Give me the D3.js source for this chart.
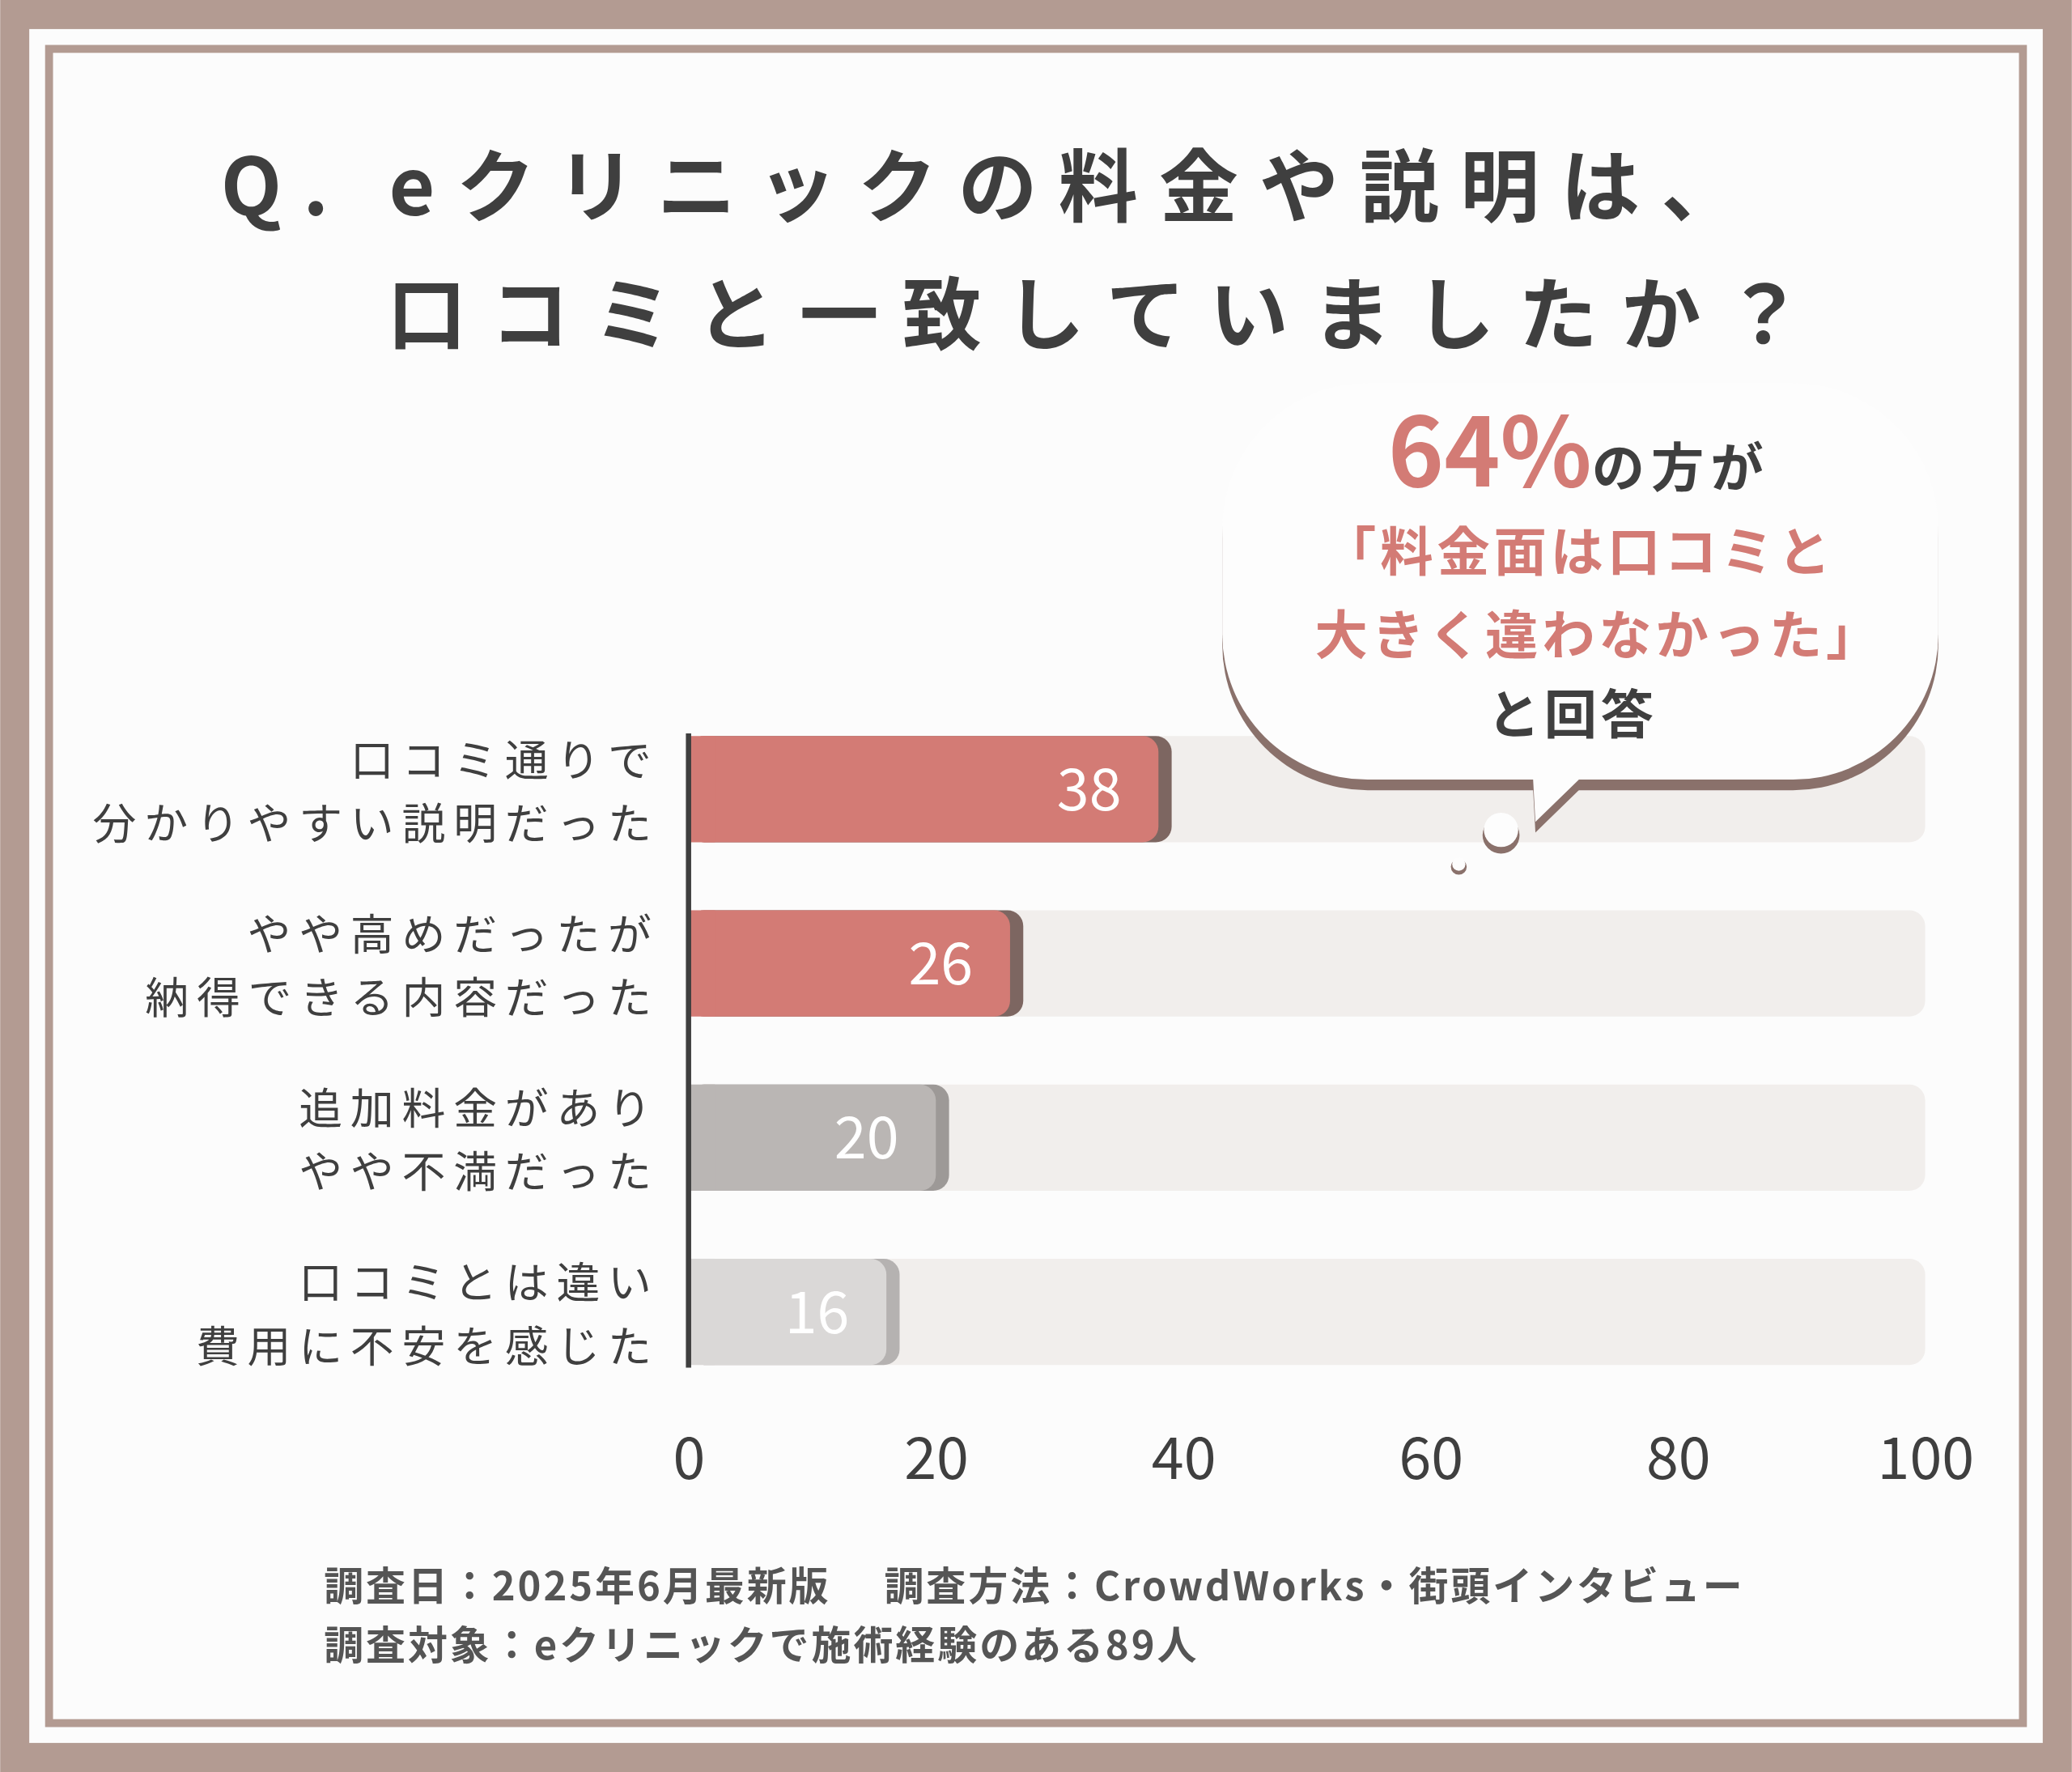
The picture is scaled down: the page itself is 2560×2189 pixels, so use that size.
<!DOCTYPE html>
<html><head><meta charset="utf-8">
<script src="https://cdn.jsdelivr.net/npm/d3@7"></script>
<style>body{margin:0;background:#fff}svg{display:block}</style>
</head><body>
<script>
const categories=[["口コミ通りで","分かりやすい説明だった"],["やや高めだったが","納得できる内容だった"],["追加料金があり","やや不満だった"],["口コミとは違い","費用に不安を感じた"]];
const values=[38,26,20,16];
const barColors=["#d37b75","#d37b75","#bab6b4","#dad8d7"];
const edgeColors=["#7d6661","#7d6661","#9d9997","#b5b2b1"];
const ticks=[0,20,40,60,80,100];
const F="'Noto Sans CJK JP','Noto Sans',sans-serif";

const svg=d3.select("body").append("svg").attr("width",2560).attr("height",2189).attr("viewBox","0 0 1568 1341");
svg.append("rect").attr("width",1568).attr("height",1341).attr("fill","#b39b92");
svg.append("rect").attr("x",22).attr("y",22).attr("width",1524).attr("height",1297).attr("fill","#fcfcfc");
svg.append("rect").attr("x",37).attr("y",37).attr("width",1494).attr("height",1267).attr("fill","none").attr("stroke","#b39b92").attr("stroke-width",6);

// title
const tt=svg.append("g").attr("font-family",F).attr("font-weight",700).attr("fill","#3f3f3f").attr("font-size",60).attr("text-anchor","middle");
tt.append("text").attr("x",750).attr("y",163).attr("letter-spacing",16).text("Q. eクリニックの料金や説明は、");
tt.append("text").attr("x",838).attr("y",260).attr("letter-spacing",18).text("口コミと一致していましたか？");

const x=d3.scaleLinear().domain([0,100]).range([521,1457]);
const y=d3.scaleBand().domain(d3.range(values.length)).range([557,1033]).paddingInner(0.39).paddingOuter(0);
const bh=y.bandwidth();

svg.selectAll(".tr").data(values).join("rect").attr("x",x(0)).attr("y",(d,i)=>y(i)).attr("width",x(100)-x(0)).attr("height",bh).attr("rx",12).attr("fill","#f1eeec");
svg.selectAll(".ed").data(values).join("rect").attr("x",x(0)).attr("y",(d,i)=>y(i)).attr("width",d=>x(d)-x(0)+10).attr("height",bh).attr("rx",12).attr("fill",(d,i)=>edgeColors[i]);
svg.selectAll(".br").data(values).join("rect").attr("x",x(0)).attr("y",(d,i)=>y(i)).attr("width",d=>x(d)-x(0)).attr("height",bh).attr("rx",12).attr("fill",(d,i)=>barColors[i]);
svg.selectAll(".bf").data(values).join("rect").attr("x",x(0)).attr("y",(d,i)=>y(i)).attr("width",20).attr("height",bh).attr("fill",(d,i)=>barColors[i]);
svg.selectAll(".vl").data(values).join("text").attr("x",d=>x(d)-28).attr("y",(d,i)=>y(i)+bh/2+16).attr("text-anchor","end").attr("font-family",F).attr("font-size",44).attr("fill","#fff").text(d=>d);

svg.append("line").attr("x1",x(0)).attr("x2",x(0)).attr("y1",555).attr("y2",1035).attr("stroke","#3f3f3f").attr("stroke-width",4);

categories.forEach((c,i)=>{
  const t=svg.append("text").attr("font-family",F).attr("font-size",33).attr("fill","#3f3f3f").attr("text-anchor","end").attr("letter-spacing",6);
  t.append("tspan").attr("x",499).attr("y",y(i)+bh/2-10).text(c[0]);
  t.append("tspan").attr("x",499).attr("y",y(i)+bh/2+38).text(c[1]);
});

const ax=svg.append("g").attr("transform","translate(0,1075)").call(d3.axisBottom(x).tickValues(ticks).tickSize(0).tickPadding(0));
ax.select(".domain").remove();
ax.selectAll("text").attr("font-family",F).attr("font-size",44).attr("fill","#3f3f3f").attr("dy","1em").attr("y",0);

const bub=svg.append("g");
function cloud(g,dy,fill){
  g.append("rect").attr("x",925).attr("y",290+dy).attr("width",542).attr("height",300).attr("rx",110).attr("fill",fill);
  g.append("path").attr("d",`M1140,${585+dy} L1160,${585+dy} L1162,${622+dy} L1200,${585+dy} Z`).attr("fill",fill);
}
cloud(bub,8,"#8a716b");
cloud(bub,0,"#fdfdfd");
bub.append("circle").attr("cx",1136).attr("cy",632).attr("r",14).attr("fill","#8a716b");
bub.append("circle").attr("cx",1136).attr("cy",628).attr("r",13).attr("fill","#fdfdfd");
bub.append("circle").attr("cx",1104).attr("cy",656).attr("r",6).attr("fill","#8a716b");
bub.append("circle").attr("cx",1104).attr("cy",654).attr("r",5).attr("fill","#fdfdfd");
const b1=svg.append("text").attr("x",1195).attr("y",368).attr("text-anchor","middle").attr("font-family",F).attr("font-weight",700);
b1.append("tspan").attr("fill","#d37b75").attr("font-size",72).text("64%");
b1.append("tspan").attr("fill","#3f3f3f").attr("font-size",40).attr("letter-spacing",5).text("の方が");
svg.append("text").attr("x",1195).attr("y",432).attr("text-anchor","middle").attr("font-family",F).attr("font-weight",700).attr("font-size",40).attr("fill","#d37b75").attr("letter-spacing",3).text("「料金面は口コミと");
svg.append("text").attr("x",1210).attr("y",495).attr("text-anchor","middle").attr("font-family",F).attr("font-weight",700).attr("font-size",40).attr("fill","#d37b75").attr("letter-spacing",3).text("大きく違わなかった」");
svg.append("text").attr("x",1190).attr("y",555).attr("text-anchor","middle").attr("font-family",F).attr("font-weight",700).attr("font-size",40).attr("fill","#3f3f3f").attr("letter-spacing",3).text("と回答");

const ft=svg.append("g").attr("font-family",F).attr("font-weight",700).attr("font-size",30).attr("fill","#555").attr("letter-spacing",1.8);
ft.append("text").attr("x",245).attr("y",1211).text("調査日：2025年6月最新版　 調査方法：CrowdWorks・街頭インタビュー");
ft.append("text").attr("x",245).attr("y",1256).text("調査対象：eクリニックで施術経験のある89人");
</script>
</body></html>
